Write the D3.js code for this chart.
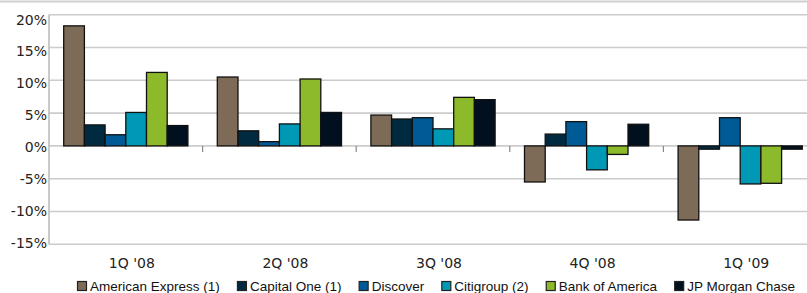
<!DOCTYPE html>
<html>
<head>
<meta charset="utf-8">
<script src="https://cdn.jsdelivr.net/npm/d3@7"></script>
<style>
  body { margin: 0; background: #fff; }
  svg { display: block; }
</style>
</head>
<body>
<div id="chart"></div>
<script>
// Data
var quarters = ["1Q '08", "2Q '08", "3Q '08", "4Q '08", "1Q '09"];
var companies = ["American Express (1)", "Capital One (1)", "Discover", "Citigroup (2)", "Bank of America", "JP Morgan Chase"];
var colors = ["#7d6b57", "#002a3f", "#005a96", "#0099b5", "#8cba2a", "#00101e"];
var amex     = [18.3, 10.5, 4.7, -5.5, -11.3];
var capOne   = [3.2, 2.3, 4.1, 1.8, -0.5];
var discover = [1.7, 0.65, 4.3, 3.7, 4.3];
var citi     = [5.1, 3.35, 2.6, -3.65, -5.8];
var bofa     = [11.2, 10.2, 7.4, -1.3, -5.7];
var jpm      = [3.1, 5.1, 7.05, 3.3, -0.5];
var yTicks = [20, 15, 10, 5, 0, -5, -10, -15];

var series = [amex, capOne, discover, citi, bofa, jpm];

var width = 807, height = 293;

var svg = d3.select("#chart")
    .append("svg")
    .attr("width", width)
    .attr("height", height);

// Scales
var y = d3.scaleLinear().domain([-15, 20]).range([244.3, 14.7]);
// labels sit a bit tighter than the gridlines in the original
var yLab = d3.scaleLinear().domain([-15, 20]).range([247.5, 24.5]);

var x0 = d3.scaleBand().domain(quarters).range([49, 817]).padding(0);
var x1 = d3.scaleBand().domain(d3.range(companies.length))
    .range([0, x0.bandwidth()]).paddingInner(0).paddingOuter(0.71);

// Top frame line
svg.append("line")
    .attr("x1", 0).attr("x2", width)
    .attr("y1", 1.5).attr("y2", 1.5)
    .attr("stroke", "#cfcfcf").attr("stroke-width", 2);

// Gridlines
svg.append("g")
    .selectAll("line")
    .data(yTicks)
    .enter().append("line")
    .attr("x1", 49).attr("x2", width)
    .attr("y1", function(d) { return y(d); })
    .attr("y2", function(d) { return y(d); })
    .attr("stroke", "#cccccc")
    .attr("stroke-width", 1.6);

// Y axis line
svg.append("line")
    .attr("x1", 49).attr("x2", 49)
    .attr("y1", y(20)).attr("y2", y(-15))
    .attr("stroke", "#b8b8b8").attr("stroke-width", 1.5);

// Y tick labels
svg.append("g")
    .selectAll("text")
    .data(yTicks)
    .enter().append("text")
    .attr("x", 47)
    .attr("y", function(d) { return yLab(d); })
    .attr("text-anchor", "end")
    .style("font-family", "DejaVu Sans")
    .style("font-size", "14px")
    .style("fill", "#222")
    .text(function(d) { return d + "%"; });

// Bars
var groups = svg.append("g")
    .selectAll("g")
    .data(quarters)
    .enter().append("g")
    .attr("transform", function(d) { return "translate(" + x0(d) + ",0)"; });

groups.selectAll("rect")
    .data(function(q, qi) {
        return series.map(function(s, si) { return {si: si, v: s[qi]}; });
    })
    .enter().append("rect")
    .attr("x", function(d) { return x1(d.si); })
    .attr("width", x1.bandwidth())
    .attr("y", function(d) { return y(Math.max(0, d.v)); })
    .attr("height", function(d) { return Math.abs(y(d.v) - y(0)); })
    .attr("fill", function(d) { return colors[d.si]; })
    .attr("stroke", "#111")
    .attr("stroke-width", 1.3);

// Category ticks at the zero line
svg.append("g")
    .selectAll("line")
    .data(quarters.slice(1))
    .enter().append("line")
    .attr("x1", function(d) { return x0(d); })
    .attr("x2", function(d) { return x0(d); })
    .attr("y1", y(0)).attr("y2", y(0) + 6)
    .attr("stroke", "#888").attr("stroke-width", 1.2);

// Category labels
svg.append("g")
    .selectAll("text")
    .data(quarters)
    .enter().append("text")
    .attr("x", function(d) { return x0(d) + x0.bandwidth() / 2 + 6; })
    .attr("y", 268)
    .attr("text-anchor", "middle")
    .style("font-family", "DejaVu Sans")
    .style("font-size", "14px")
    .style("fill", "#222")
    .text(function(d) { return d; });

// Legend: items spread so the row spans x 77..795 like the original
var legendLeft = 77, legendRight = 795, swatch = 13;
var legend = svg.append("g");
var items = companies.map(function(name, i) {
    var item = legend.append("g");
    item.append("rect")
        .attr("x", 0.5).attr("y", 281.5)
        .attr("width", 9).attr("height", 9)
        .attr("fill", colors[i])
        .attr("stroke", "#222").attr("stroke-width", 1.2);
    var t = item.append("text")
        .attr("x", swatch)
        .attr("y", 290.5)
        .style("font-family", "Liberation Sans")
        .style("font-size", "13.5px")
        .style("fill", "#111")
        .text(name);
    return {g: item, w: swatch + t.node().getComputedTextLength()};
});
var total = d3.sum(items, function(d) { return d.w; });
var gap = (legendRight - legendLeft - total) / (items.length - 1);
var lx = legendLeft;
items.forEach(function(d) {
    d.g.attr("transform", "translate(" + lx + ",0)");
    lx += d.w + gap;
});
</script>
</body>
</html>
